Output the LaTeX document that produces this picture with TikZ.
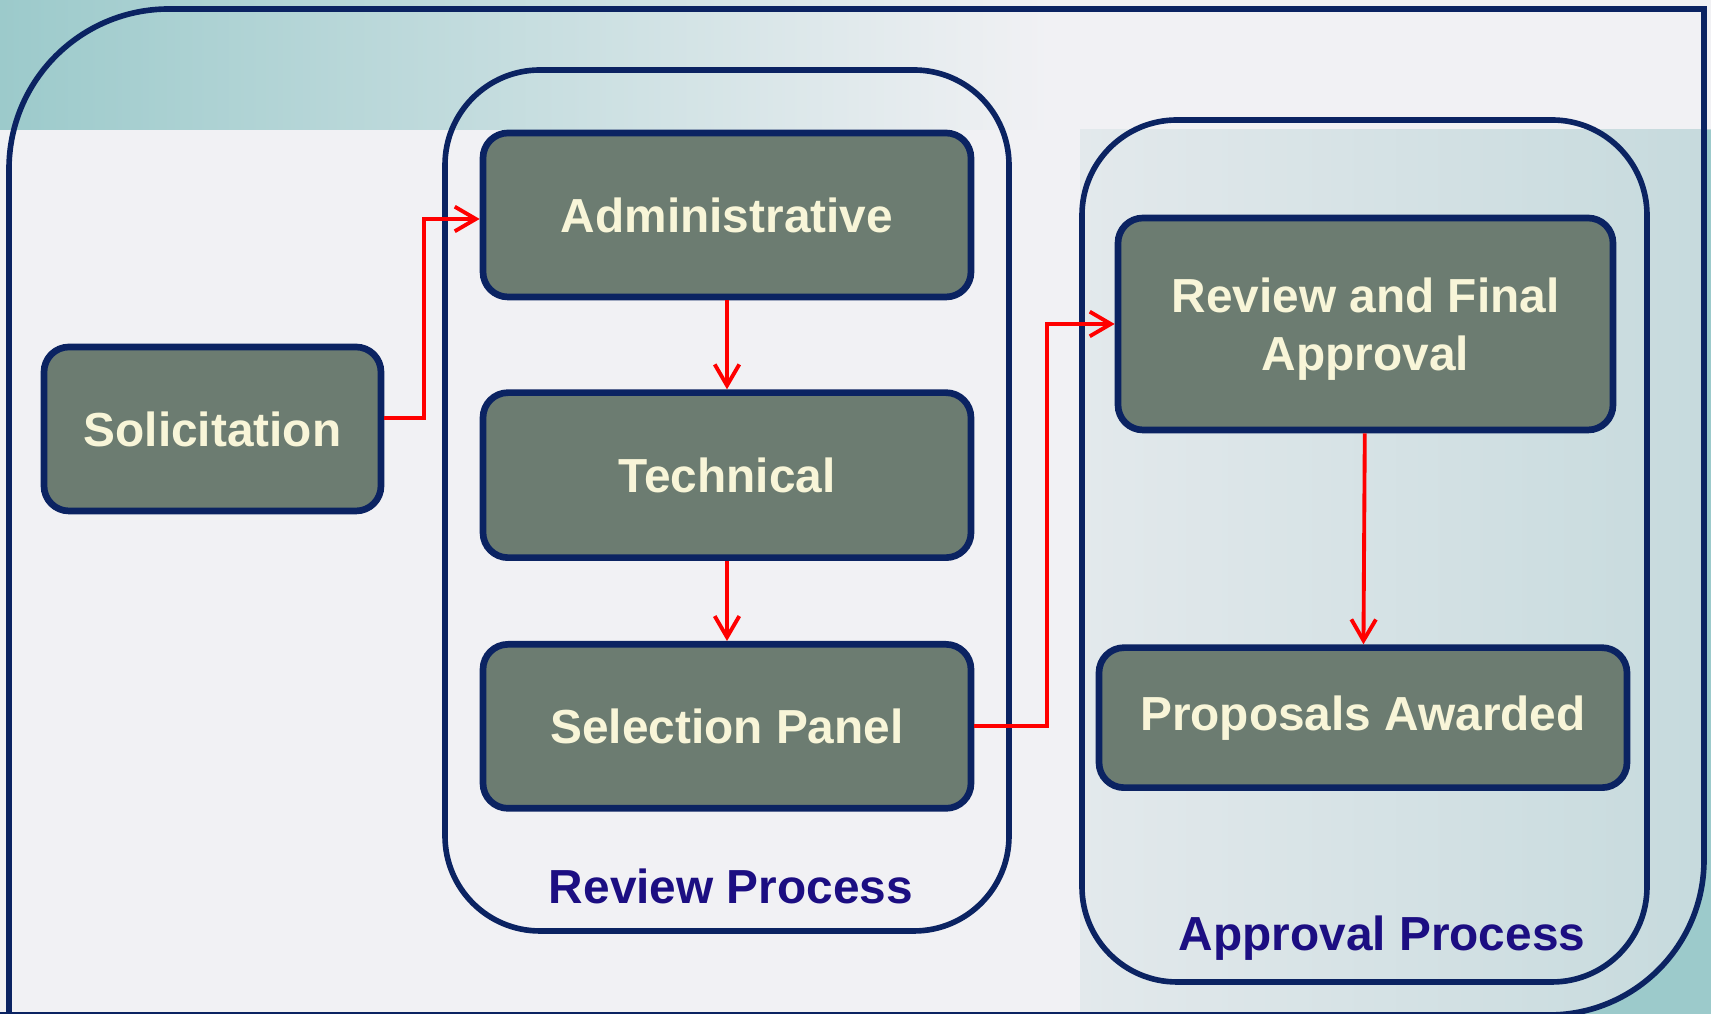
\documentclass[tikz,border=0pt]{standalone}
\usepackage{fontspec}
\setmainfont{Liberation Sans}
\usetikzlibrary{shapes.geometric, arrows, arrows.meta, positioning}
\definecolor{navy}{HTML}{0B2362}
\definecolor{stagegray}{HTML}{6C7C71}
\definecolor{cream}{HTML}{F8F5D8}
\definecolor{labelblue}{HTML}{1C0E82}
\definecolor{bgpale}{HTML}{F1F1F4}
\definecolor{bgmist}{HTML}{E3E9EC}
\definecolor{bgblue}{HTML}{C6DADD}
\definecolor{bgteal}{HTML}{9CCACB}
\tikzstyle{stage} = [rectangle, rounded corners=0.25cm, text centered, align=center, draw=navy, line width=1.9pt, fill=stagegray, text=cream, font=\fontsize{13.6}{16.5}\selectfont\bfseries]
\tikzstyle{group} = [rectangle, rounded corners=0.95cm, draw=navy, line width=1.6pt]
\tikzstyle{grouplabel} = [text=labelblue, font=\fontsize{13.6}{16.5}\selectfont\bfseries]
\tikzstyle{frame} = [draw=navy, line width=1.6pt]
\tikzstyle{arrow} = [line width=1.1pt, draw=red, ->, >={Straight Barb[length=6pt,width=7pt]}]

\begin{document}
\begin{tikzpicture}
	\useasboundingbox (0,0) rectangle (17.11,10.14);
	% background
	\fill[bgpale] (0,0) rectangle (17.11,10.14);
	\shade[left color=bgteal, right color=bgpale] (0,8.84) rectangle (10.5,10.14);
	\shade[left color=bgmist, right color=bgblue] (10.8,0) rectangle (17.11,8.84);
	\fill[bgteal] (17.11,8.84) -- (17.04,8.84) -- (17.04,1.54) arc[start angle=0, end angle=-90, radius=1.55] -- (17.11,-0.01) -- cycle;
	\draw[frame] (0.09,-0.5) -- (0.09,8.45) arc[start angle=180, end angle=90, radius=1.6] -- (17.04,10.05) -- (17.04,1.54) arc[start angle=0, end angle=-90, radius=1.55] -- (-0.5,-0.01);
	% groups
	\node (reviewgrp) [group, minimum width=5.64cm, minimum height=8.61cm] at (7.27,5.135) {};
	\node (approvalgrp) [group, minimum width=5.65cm, minimum height=8.62cm] at (13.645,4.63) {};
	\node (reviewlbl) [grouplabel] at (7.31,1.28) {Review Process};
	\node (approvallbl) [grouplabel] at (13.82,0.76) {Approval Process};
	% stages
	\node (solicit) [stage, minimum width=3.37cm, minimum height=1.64cm] at (2.125,5.85) {Solicitation};
	\node (admin) [stage, minimum width=4.88cm, minimum height=1.64cm] at (7.27,7.99) {Administrative};
	\node (tech) [stage, minimum width=4.88cm, minimum height=1.65cm, below=0.89cm of admin] {Technical};
	\node (select) [stage, minimum width=4.88cm, minimum height=1.64cm, below=0.80cm of tech] {Selection Panel};
	\node (final) [stage, minimum width=4.95cm, minimum height=2.12cm, text depth=0pt] at (13.655,6.90) {Review and Final\\Approval};
	\node (awarded) [stage, minimum width=5.28cm, minimum height=1.40cm, below=2.11cm of final, xshift=-0.025cm] {Proposals Awarded};
	% connectors
	\draw [arrow] ([yshift=0.11cm]solicit.east) -- ++(0.4,0) |- ([yshift=-0.04cm]admin.west);
	\draw [arrow] (admin) -- (tech);
	\draw [arrow] (tech) -- (select);
	\draw [arrow] (select.east) -- ++(0.73,0) |- (final.west);
	\draw [arrow] (final) -- (awarded);
\end{tikzpicture}
\end{document}
